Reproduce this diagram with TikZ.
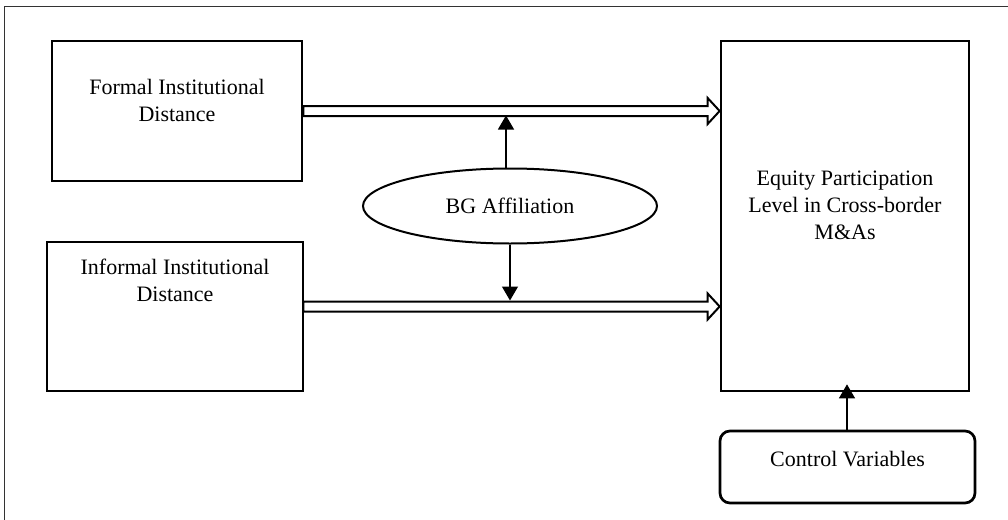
\documentclass[tikz,border=0pt]{standalone}
\usepackage{fontspec}
\setmainfont{Liberation Serif}
\usetikzlibrary{shapes, arrows.meta, positioning, calc}

\tikzset{
  box/.style={draw, line width=1.35pt, inner sep=0pt},
  txt/.style={align=center, font=\fontsize{11}{13.5}\selectfont},
  flow/.style={draw, line width=1pt, fill=white, line join=miter},
  modarrow/.style={draw, line width=0.6pt, -{Triangle[length=7pt, width=8pt]}},
}
% hollow block arrow from #1 to #2
\newcommand{\flowarrow}[2]{%
  \draw[flow] ($(#1)+(0,2.5pt)$) -- ($(#2)+(-6pt,2.5pt)$) -- ($(#2)+(-6pt,6.5pt)$)
    -- (#2) -- ($(#2)+(-6pt,-6.5pt)$) -- ($(#2)+(-6pt,-2.5pt)$) -- ($(#1)+(0,-2.5pt)$) -- cycle;}

\begin{document}
\begin{tikzpicture}[x=0.5pt, y=-0.5pt]
\useasboundingbox (0,0) rectangle (1008,520);
% outer frame
\draw[line width=0.5pt, black!80] (4,520) -- (4,6) -- (1008,6);

% independent variables
\node[box, minimum width=125pt, minimum height=70pt] (formal) at (177,111) {};
\node[txt] (formaltxt) at (177,100) {Formal Institutional\\Distance};
\node[box, minimum width=128pt, minimum height=74.5pt] (informal) at (175,316.5) {};
\node[txt] (informaltxt) at (175,280) {Informal Institutional\\Distance};

% dependent variable
\node[box, minimum width=124pt, minimum height=175pt] (equity) at (845,216) {};
\node[txt] (equitytxt) at (845,205) {Equity Participation\\Level in Cross-border\\M\&As};

% moderator and controls
\node[draw, ellipse, line width=1pt, minimum width=147pt, minimum height=37.5pt, inner sep=0pt] (bg) at (510,206) {};
\node[txt] (bgtxt) at (bg) {BG Affiliation};
\node[box, rounded corners=5pt, minimum width=127.5pt, minimum height=36pt] (control) at (847.5,467) {};
\node[txt] (controltxt) at (847.5,459) {Control Variables};

% main effects
\coordinate (f1) at (formal.east);
\coordinate (f2) at (f1 -| equity.west);
\coordinate (i1) at ($(informal.east)+(-1,-10)$);
\coordinate (i2) at (i1 -| equity.west);
\flowarrow{f1}{f2}
\flowarrow{i1}{i2}

% moderation
\draw[modarrow] ([xshift=-2pt]bg.north) -- ++(0,-52);
\draw[modarrow] (bg.south) -- ++(0,56);
\draw[modarrow] (control.north -| 847,0) -- ([yshift=4pt]equity.south -| 847,0);
\end{tikzpicture}
\end{document}
